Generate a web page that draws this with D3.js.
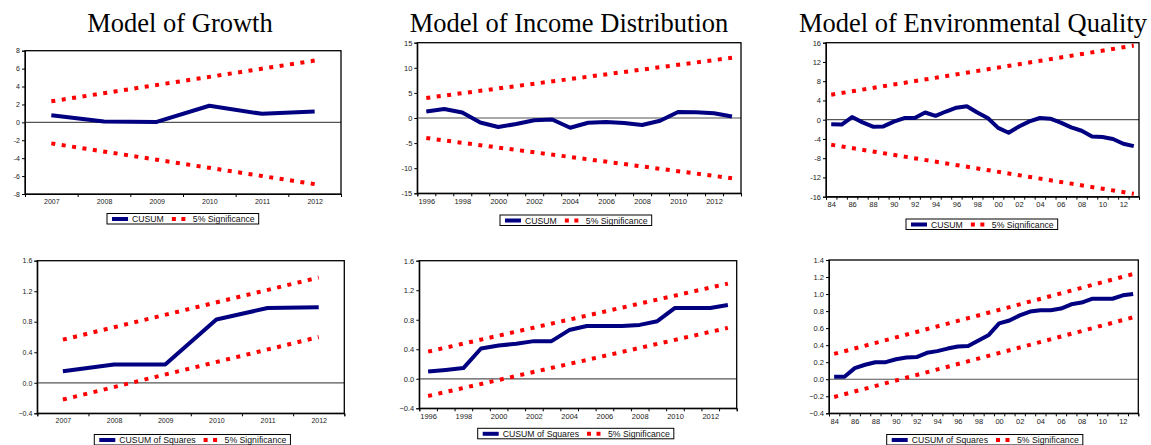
<!DOCTYPE html>
<html>
<head>
<meta charset="utf-8">
<script src="https://cdn.jsdelivr.net/npm/d3@7"></script>
<style>
body { margin: 0; background: #fff; }
svg { display: block; font-family: Arial, "Liberation Sans", sans-serif; }
.title { font-family: "Liberation Serif", "Times New Roman", serif; font-size: 26.5px; fill: #000; }
.axis text { fill: #222; }
.axis path, .axis line { stroke: #000; }
.cusum { fill: none; stroke: #000080; stroke-width: 4; stroke-linejoin: round; }
.bound { fill: none; stroke: #ff0000; stroke-width: 4; stroke-dasharray: 4 6.5; }
.zero { stroke: #555; stroke-width: 1.2; }
.frame { fill: none; stroke: #000; stroke-width: 1.3; }
.legend text { font-size: 8.7px; fill: #111; }
</style>
</head>
<body>
<svg width="1151" height="445"></svg>
<script>
// ---- data ----
var titles = ["Model of Growth", "Model of Income Distribution", "Model of Environmental Quality"];

var growthYears = [2007, 2008, 2009, 2010, 2011, 2012];
var growthCusum = [0.8, 0.1, 0.05, 1.85, 0.95, 1.2];
var growthCusumBound = [2.35, 6.9];           // upper band at first / last year (lower is the negative)
var growthCusumSq = [0.15, 0.24, 0.24, 0.83, 0.98, 0.99];
var growthSqUpper = [0.565, 1.38];
var growthSqLower = [-0.22, 0.6];

var incomeYears = [1996, 1997, 1998, 1999, 2000, 2001, 2002, 2003, 2004, 2005,
                   2006, 2007, 2008, 2009, 2010, 2011, 2012, 2013];
var incomeCusum = [1.3, 1.8, 1.1, -0.9, -1.8, -1.2, -0.45, -0.3, -1.95, -0.95,
                   -0.8, -1.0, -1.4, -0.55, 1.2, 1.13, 0.95, 0.3];
var incomeCusumBound = [4.0, 12.0];
var incomeCusumSq = [0.1, 0.12, 0.145, 0.41, 0.45, 0.475, 0.51, 0.51, 0.66, 0.715,
                     0.715, 0.715, 0.73, 0.78, 0.96, 0.96, 0.96, 1.0];
var incomeSqUpper = [0.368, 1.29];
var incomeSqLower = [-0.233, 0.69];

var envYears = [1984, 1985, 1986, 1987, 1988, 1989, 1990, 1991, 1992, 1993,
                1994, 1995, 1996, 1997, 1998, 1999, 2000, 2001, 2002, 2003,
                2004, 2005, 2006, 2007, 2008, 2009, 2010, 2011, 2012, 2013];
var envCusum = [-0.95, -1.0, 0.55, -0.55, -1.45, -1.4, -0.4, 0.35, 0.35, 1.5,
                0.8, 1.7, 2.5, 2.8, 1.5, 0.35, -1.7, -2.7, -1.4, -0.35,
                0.35, 0.2, -0.6, -1.6, -2.3, -3.5, -3.6, -4.0, -5.0, -5.5];
var envCusumBound = [5.2, 15.4];
var envCusumSq = [0.03, 0.03, 0.13, 0.17, 0.2, 0.2, 0.235, 0.255, 0.26, 0.31,
                  0.33, 0.36, 0.385, 0.39, 0.455, 0.52, 0.655, 0.69, 0.75, 0.795,
                  0.81, 0.81, 0.83, 0.88, 0.9, 0.945, 0.945, 0.945, 0.985, 1.0];
var envSqUpper = [0.297, 1.235];
var envSqLower = [-0.208, 0.727];

var growthYTicks = [-8, -6, -4, -2, 0, 2, 4, 6, 8];
var incomeYTicks = [-15, -10, -5, 0, 5, 10, 15];
var envYTicks = [-16, -12, -8, -4, 0, 4, 8, 12, 16];
var sqYTicks = [-0.4, 0.0, 0.4, 0.8, 1.2, 1.6];
var envSqYTicks = [-0.4, -0.2, 0.0, 0.2, 0.4, 0.6, 0.8, 1.0, 1.2, 1.4];

var svg = d3.select("svg");

// titles
[[180, titles[0]], [569, titles[1]], [973, titles[2]]].forEach(function(t) {
  svg.append("text").attr("class", "title")
      .attr("x", t[0]).attr("y", 32)
      .attr("text-anchor", "middle")
      .text(t[1]);
});

function panel(o) {
  var g = svg.append("g");
  var first = o.years[0], last = o.years[o.years.length - 1];

  var x = d3.scaleLinear().domain([first - 0.5, last + 0.5]).range([o.left, o.right]);
  var y = d3.scaleLinear().domain(o.yDomain).range([o.bottom, o.top]);

  // y axis
  g.append("g").attr("class", "axis")
      .attr("transform", "translate(" + o.left + ",0)")
      .call(d3.axisLeft(y).tickValues(o.yTicks).tickSize(3).tickPadding(2)
        .tickFormat(o.yFormat ? d3.format(o.yFormat) : function(d) { return d; }))
      .call(function(a) { a.selectAll("text").style("font-size", o.font + "px"); });

  // x axis: ticks at year edges, labels at year centres
  var edges = o.years.map(function(d) { return d - 0.5; }).concat([last + 0.5]);
  g.append("g").attr("class", "axis")
      .attr("transform", "translate(0," + o.bottom + ")")
      .call(d3.axisBottom(x).tickValues(edges).tickSize(3).tickFormat(""));

  var labelled = o.years.filter(function(d, i) { return i % o.every === 0; });
  g.append("g").attr("class", "axis")
      .attr("transform", "translate(0," + o.bottom + ")")
      .call(d3.axisBottom(x).tickValues(labelled).tickSize(0).tickPadding(5)
        .tickFormat(o.xFormat))
      .call(function(a) {
        a.select(".domain").remove();
        a.selectAll("text").style("font-size", o.font + "px");
      });

  // zero line
  g.append("line").attr("class", "zero")
      .attr("x1", o.left).attr("x2", o.right)
      .attr("y1", y(0)).attr("y2", y(0));

  var clipId = "clip" + o.id;
  g.append("clipPath").attr("id", clipId)
    .append("rect").attr("x", o.left).attr("y", o.top)
      .attr("width", o.right - o.left).attr("height", o.bottom - o.top);

  var line = d3.line()
      .x(function(d) { return x(d[0]); })
      .y(function(d) { return y(d[1]); });

  var plot = g.append("g").attr("clip-path", "url(#" + clipId + ")");

  o.bounds.forEach(function(b) {
    plot.append("path").attr("class", "bound")
        .datum([[first, b[0]], [last, b[1]]])
        .attr("d", line);
  });

  plot.append("path").attr("class", "cusum")
      .datum(o.years.map(function(d, i) { return [d, o.values[i]]; }))
      .attr("d", line);

  g.append("rect").attr("class", "frame")
      .attr("x", o.left).attr("y", o.top)
      .attr("width", o.right - o.left).attr("height", o.bottom - o.top);

  // legend
  var lg = svg.append("g").attr("class", "legend")
      .attr("transform", "translate(" + o.legend[0] + "," + o.legend[1] + ")");
  var box = lg.append("rect").attr("fill", "#fff").attr("stroke", "#000").attr("stroke-width", 1)
      .attr("height", 10.5);
  var mid = 5.5;
  lg.append("line").attr("x1", 5).attr("x2", 21).attr("y1", mid).attr("y2", mid)
      .attr("stroke", "#000080").attr("stroke-width", 4);
  var t1 = lg.append("text").attr("x", 25).attr("y", mid + 3).text(o.name);
  var w1 = t1.node().getComputedTextLength();
  var dx = 25 + w1 + 8;
  lg.append("line").attr("x1", dx).attr("x2", dx + 15).attr("y1", mid).attr("y2", mid)
      .attr("stroke", "#ff0000").attr("stroke-width", 4).attr("stroke-dasharray", "4 5.5");
  var t2 = lg.append("text").attr("x", dx + 21).attr("y", mid + 3).text("5% Significance");
  var w2 = t2.node().getComputedTextLength();
  box.attr("width", dx + 21 + w2 + 4);
  box.attr("x", 0);
}

function neg(a) { return a.map(function(d) { return -d; }); }
var fullYear = function(d) { return String(d); };
var shortYear = function(d) { return String(d).slice(2); };

panel({ id: 1, years: growthYears, values: growthCusum, bounds: [growthCusumBound, neg(growthCusumBound)],
  left: 25, right: 341, top: 50.7, bottom: 194, yDomain: [-8, 8], yTicks: growthYTicks,
  every: 1, xFormat: fullYear, font: 7, name: "CUSUM", legend: [107, 213.5] });

panel({ id: 2, years: incomeYears, values: incomeCusum, bounds: [incomeCusumBound, neg(incomeCusumBound)],
  left: 417.3, right: 741, top: 42.7, bottom: 193.3, yDomain: [-15, 15], yTicks: incomeYTicks,
  every: 2, xFormat: fullYear, font: 7.5, name: "CUSUM", legend: [500, 215] });

panel({ id: 3, years: envYears, values: envCusum, bounds: [envCusumBound, neg(envCusumBound)],
  left: 826, right: 1139, top: 42.7, bottom: 196.7, yDomain: [-16, 16], yTicks: envYTicks,
  every: 2, xFormat: shortYear, font: 7.5, name: "CUSUM", legend: [906, 219] });

panel({ id: 4, years: growthYears, values: growthCusumSq, bounds: [growthSqUpper, growthSqLower],
  left: 37.3, right: 344.3, top: 260.7, bottom: 413.3, yDomain: [-0.4, 1.6], yTicks: sqYTicks,
  yFormat: ".1f", every: 1, xFormat: fullYear, font: 7, name: "CUSUM of Squares", legend: [94.3, 434.5] });

panel({ id: 5, years: incomeYears, values: incomeCusumSq, bounds: [incomeSqUpper, incomeSqLower],
  left: 419.3, right: 736.7, top: 260.7, bottom: 408.3, yDomain: [-0.4, 1.6], yTicks: sqYTicks,
  yFormat: ".1f", every: 2, xFormat: fullYear, font: 7.5, name: "CUSUM of Squares", legend: [477.7, 428.3] });

panel({ id: 6, years: envYears, values: envCusumSq, bounds: [envSqUpper, envSqLower],
  left: 829, right: 1138.3, top: 260, bottom: 413.3, yDomain: [-0.4, 1.4], yTicks: envSqYTicks,
  yFormat: ".1f", every: 2, xFormat: shortYear, font: 7.5, name: "CUSUM of Squares", legend: [886.7, 434.5] });
</script>
</body>
</html>
